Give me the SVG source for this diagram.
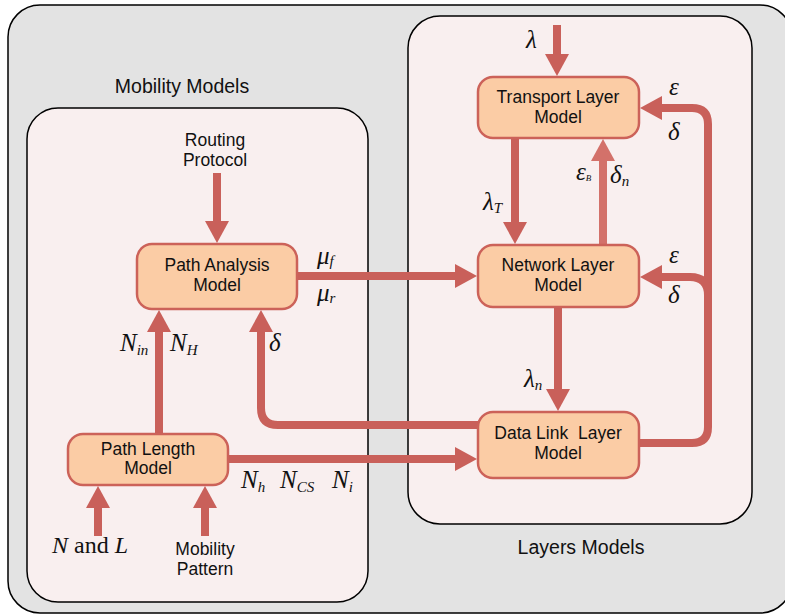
<svg xmlns="http://www.w3.org/2000/svg" width="785" height="615" viewBox="0 0 785 615">
<defs>
<marker id="ah" markerUnits="userSpaceOnUse" viewBox="0 -12 22 24" markerWidth="22" markerHeight="24" refX="1" refY="0" orient="auto">
<path d="M0,-12 L22,0 L0,12 z" fill="#C9605A"/>
</marker>
<marker id="ahl" markerUnits="userSpaceOnUse" viewBox="0 -12 22 24" markerWidth="22" markerHeight="24" refX="1" refY="0" orient="auto">
<path d="M0,-12 L22,0 L0,12 z" fill="#D3716A"/>
</marker>
</defs>
<style>
.cont{stroke:#000;stroke-width:1.5}
.node rect{fill:#FBCCA5;stroke:#CC6259;stroke-width:2.5}
.lbl{font-family:"Liberation Sans",Arial,sans-serif;font-size:17.5px;fill:#111;text-anchor:middle}
.big{font-size:19.5px}
.m{font-family:"Liberation Serif","Times New Roman",serif;font-style:italic;font-size:25px;fill:#111}
.sub{font-size:15px}
.arr{fill:none;stroke:#C9605A;stroke-width:8;marker-end:url(#ah)}
</style>
<rect x="8" y="5" width="784" height="608" rx="32" fill="#E3E3E3" class="cont"/>
<rect x="27" y="108" width="341" height="494" rx="31" fill="#F9EFEF" class="cont"/>
<rect x="408" y="16" width="344" height="508" rx="32" fill="#F9EFEF" class="cont"/>
<text class="lbl big" x="182" y="93">Mobility Models</text>
<text class="lbl big" x="581" y="554">Layers Models</text>

<g id="connectors">
<path class="arr" d="M557,25 V55"/>
<path class="arr" d="M515,138 V223"/>
<path d="M603,245 V160" fill="none" stroke="#D3716A" stroke-width="8" marker-end="url(#ahl)"/>
<path class="arr" d="M639,443 H692 Q708,443 708,427 V124 Q708,108 692,108 H661"/>
<path class="arr" d="M708,295 Q708,277 690,277 H661"/>
<path class="arr" d="M558,307 V390"/>
<path class="arr" d="M297,276 H456"/>
<path class="arr" d="M228,459 H456"/>
<path class="arr" d="M478,425 H278 Q261,425 261,408 V331"/>
<path class="arr" d="M159,434 V331"/>
<path class="arr" d="M217,173 V222"/>
<path class="arr" d="M98,536 V507"/>
<path class="arr" d="M205,536 V507"/>
</g>

<g id="transport" class="node">
<rect x="478" y="77" width="161" height="61" rx="15"/>
<text class="lbl" x="558" y="103">Transport Layer</text>
<text class="lbl" x="558" y="123">Model</text>
</g>
<g id="network" class="node">
<rect x="478" y="245" width="161" height="62" rx="15"/>
<text class="lbl" x="558" y="271">Network Layer</text>
<text class="lbl" x="558" y="291">Model</text>
</g>
<g id="datalink" class="node">
<rect x="478" y="412" width="161" height="66" rx="15"/>
<text class="lbl" x="558" y="439" xml:space="preserve">Data Link  Layer</text>
<text class="lbl" x="558" y="459">Model</text>
</g>
<g id="pathanalysis" class="node">
<rect x="137" y="244" width="160" height="65" rx="15"/>
<text class="lbl" x="217" y="271">Path Analysis</text>
<text class="lbl" x="217" y="291">Model</text>
</g>
<g id="pathlength" class="node">
<rect x="68" y="434" width="160" height="51" rx="15"/>
<text class="lbl" x="148" y="455">Path Length</text>
<text class="lbl" x="148" y="474">Model</text>
</g>

<g id="inputs">
<text class="lbl" x="215" y="146">Routing</text>
<text class="lbl" x="215" y="166">Protocol</text>
<text class="lbl" x="205" y="555">Mobility</text>
<text class="lbl" x="205" y="575">Pattern</text>
<text class="m" x="52" y="553" style="font-size:24px"><tspan>N</tspan><tspan style="font-style:normal"> and </tspan><tspan>L</tspan></text>
</g>

<g id="labels">
<text class="m" x="526" y="48">λ</text>
<text class="m" x="483" y="210">λ<tspan class="sub" dy="3">T</tspan></text>
<text class="m" x="576" y="180">ε<tspan style="font-size:9px" dy="1">B</tspan></text>
<text class="m" x="610" y="183">δ<tspan class="sub" dy="3">n</tspan></text>
<text class="m" x="669" y="95">ε</text>
<text class="m" x="668" y="140">δ</text>
<text class="m" x="669" y="263">ε</text>
<text class="m" x="668" y="303">δ</text>
<text class="m" x="524" y="387">λ<tspan class="sub" dy="3">n</tspan></text>
<text class="m" x="317" y="264">μ<tspan class="sub" dy="2">f</tspan></text>
<text class="m" x="317" y="301">μ<tspan class="sub" dy="2">r</tspan></text>
<text class="m" x="120" y="351">N<tspan class="sub" dy="4">in</tspan></text>
<text class="m" x="170" y="351">N<tspan class="sub" dy="4">H</tspan></text>
<text class="m" x="269" y="351">δ</text>
<text class="m" x="241" y="488">N<tspan class="sub" dy="4">h</tspan></text>
<text class="m" x="280" y="488">N<tspan class="sub" dy="4">CS</tspan></text>
<text class="m" x="332" y="488">N<tspan class="sub" dy="4">i</tspan></text>
</g>
</svg>
